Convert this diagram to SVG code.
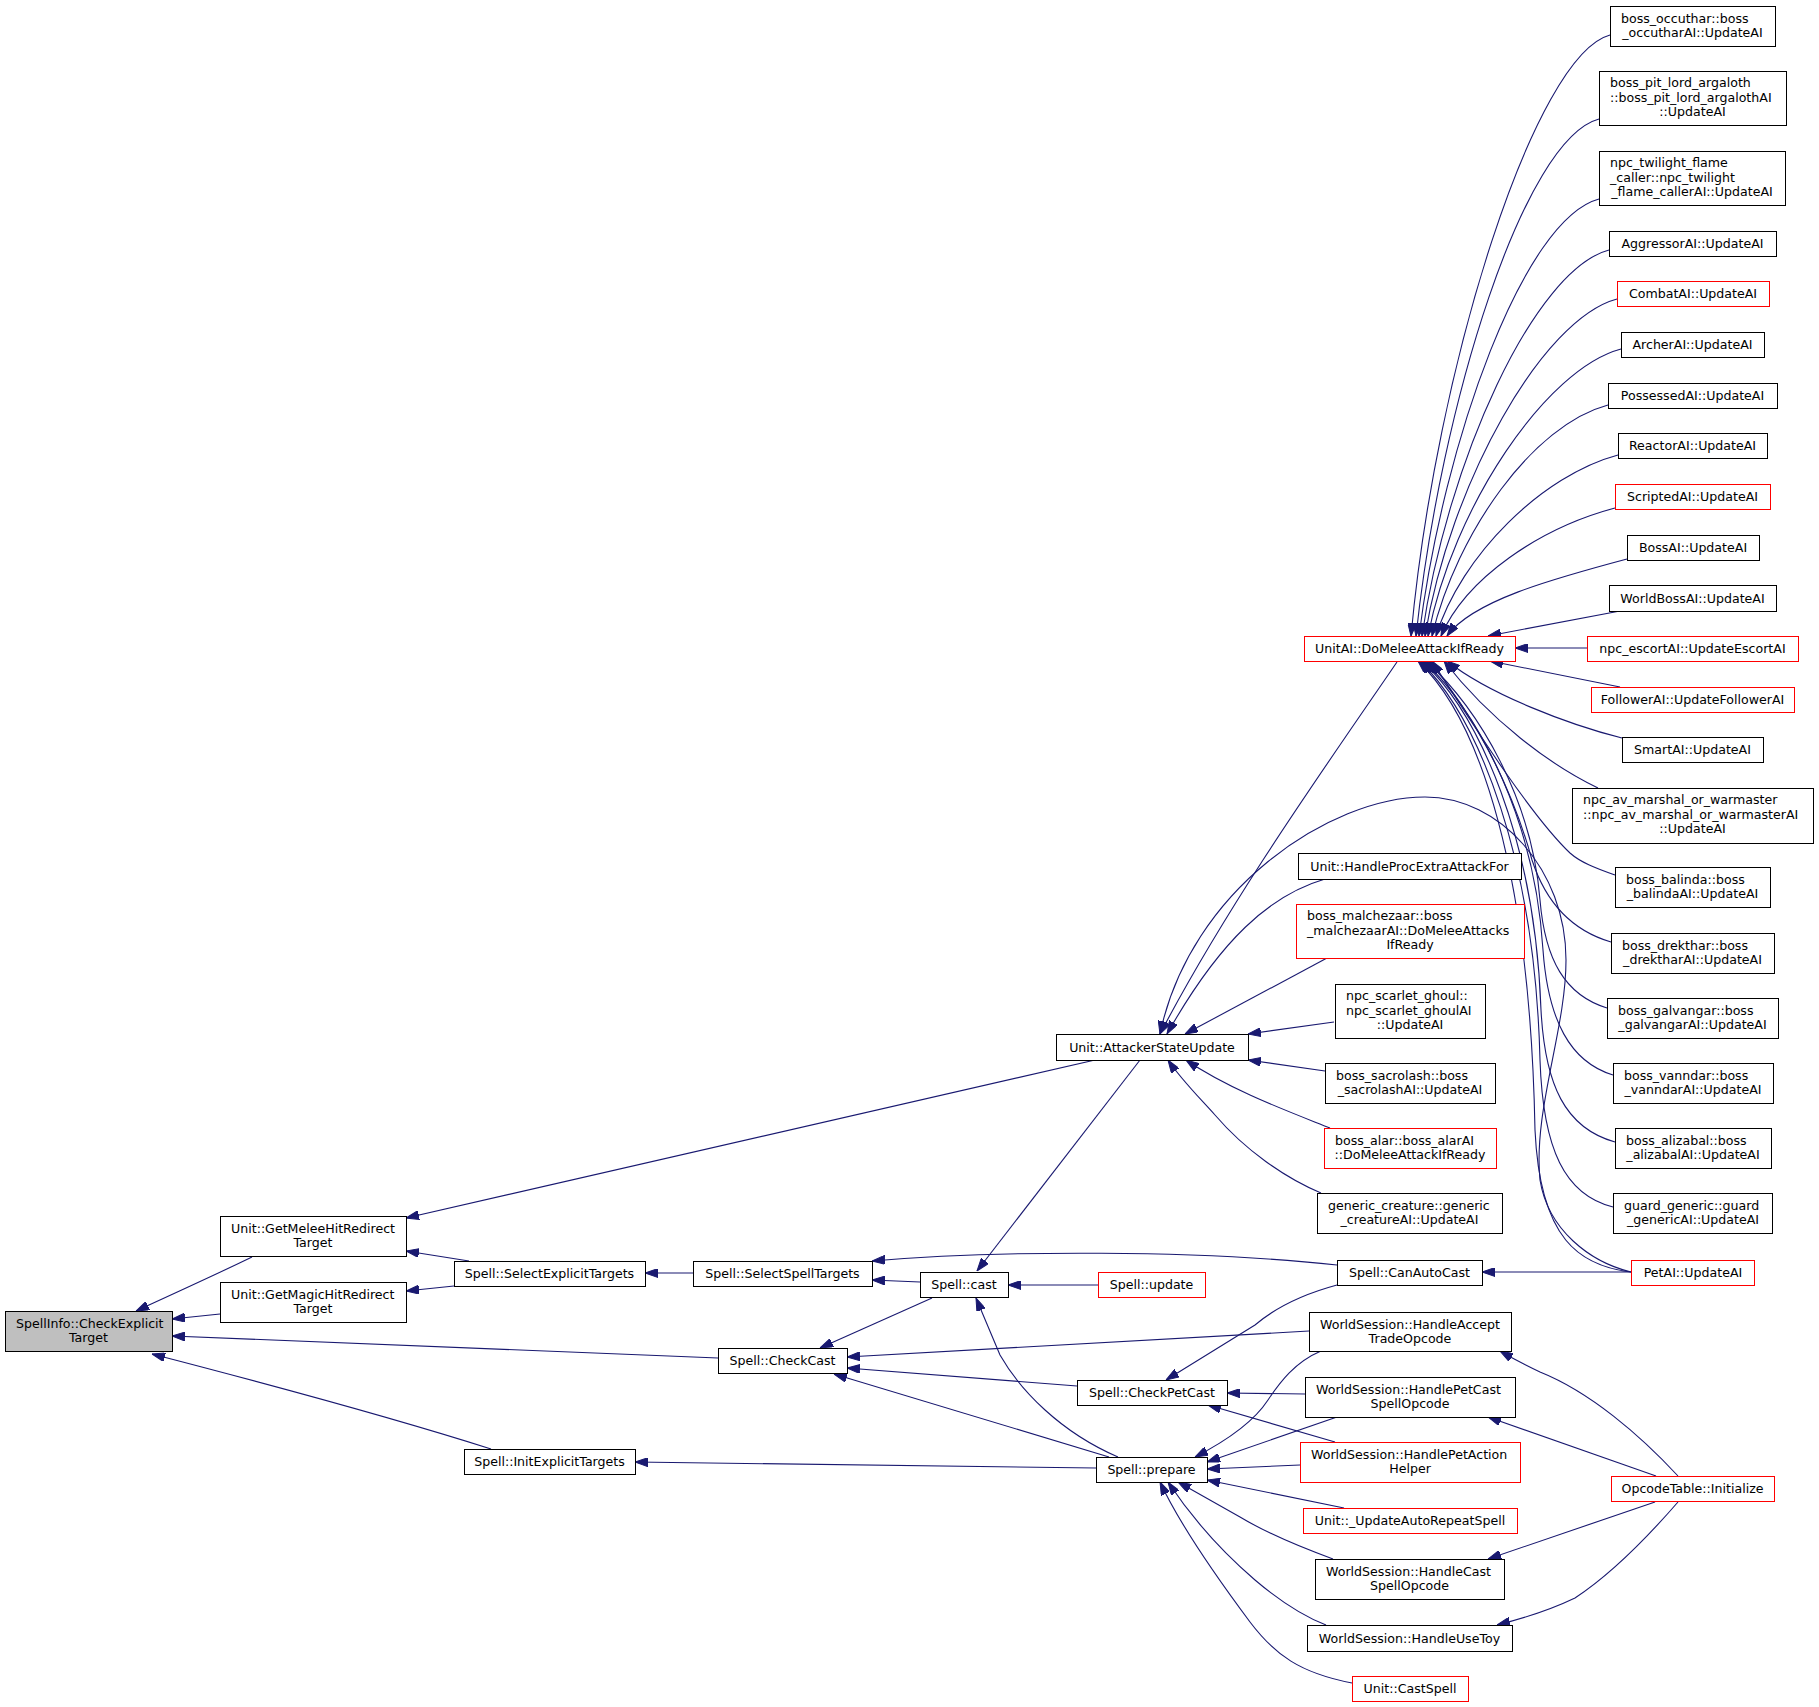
<svg xmlns="http://www.w3.org/2000/svg" width="1819" height="1707" viewBox="0 0 1819 1707">
<style>
rect{fill:#fff;stroke:#000;stroke-width:1}
.r rect{stroke:#f00}
.g rect{fill:#bfbfbf}
text{font-family:"DejaVu Sans","Liberation Sans",sans-serif;font-size:12.6px;fill:#000}
.c{text-anchor:middle}
#edges path{fill:none;stroke:#191970;stroke-width:1.1;marker-end:url(#ah)}
</style>
<defs>
<marker id="ah" markerUnits="userSpaceOnUse" markerWidth="13" markerHeight="9" refX="13" refY="4.5" orient="auto" viewBox="0 0 13 9">
<path d="M0,0 L13,4.5 L0,9 z" fill="#191970" stroke="#191970" stroke-width="1"/>
</marker>
</defs>
<rect x="0" y="0" width="1819" height="1707" style="fill:#fff;stroke:none"/>
<g id="edges">
<path d="M252,1257 C215,1275 175,1293 136,1311"/>
<path d="M220,1314 L172,1319"/>
<path d="M718,1358 L172,1336"/>
<path d="M491,1449 C400,1420 260,1382 152,1354"/>
<path d="M469,1261 L406,1251"/>
<path d="M454,1286 L406,1291"/>
<path d="M1095,1060 L406,1218"/>
<path d="M693,1273 L645,1273"/>
<path d="M920,1282 L872,1280"/>
<path d="M1337,1265 C1200,1250 1000,1250 872,1261"/>
<path d="M1098,1285 L1008,1285"/>
<path d="M1140,1060 L977,1271"/>
<path d="M1118,1457 C1060,1432 1020,1390 1000,1355 L976,1298"/>
<path d="M932,1298 L820,1348"/>
<path d="M1309,1331 L847,1357"/>
<path d="M1077,1386 L847,1368"/>
<path d="M1109,1457 L834,1374"/>
<path d="M1096,1468 L635,1462"/>
<path d="M1337,1285 C1300,1295 1275,1308 1255,1325 L1166,1380"/>
<path d="M1305,1394 L1227,1393"/>
<path d="M1335,1442 L1208,1405"/>
<path d="M1321,1351 C1295,1362 1280,1382 1268,1400 C1255,1420 1228,1440 1195,1457"/>
<path d="M1337,1417 L1207,1462"/>
<path d="M1300,1465 L1207,1469"/>
<path d="M1344,1508 L1207,1480"/>
<path d="M1333,1559 C1300,1547 1265,1532 1240,1517 L1178,1482"/>
<path d="M1326,1625 C1300,1615 1275,1597 1255,1580 C1220,1550 1190,1515 1168,1482"/>
<path d="M1352,1683 C1300,1673 1275,1655 1250,1622 C1215,1575 1180,1525 1160,1482"/>
<path d="M1678,1476 C1640,1435 1590,1392 1540,1372 C1525,1365 1512,1358 1500,1351"/>
<path d="M1656,1476 L1488,1417"/>
<path d="M1655,1502 L1488,1559"/>
<path d="M1678,1502 C1645,1540 1610,1575 1575,1598 C1550,1610 1525,1618 1497,1625"/>
<path d="M1631,1272 L1482,1272"/>
<path d="M1587,648 L1515,648"/>
<path d="M1620,611 L1488,636"/>
<path d="M1620,687 L1490,661"/>
<path d="M1610,35 C1535,55 1436,365 1411,636"/>
<path d="M1599,119 C1524,139 1441,403 1416,636"/>
<path d="M1599,199 C1524,219 1444,439 1419,636"/>
<path d="M1609,250 C1534,270 1447,462 1422,636"/>
<path d="M1617,299 C1542,319 1450,484 1425,636"/>
<path d="M1621,349 C1546,369 1453,507 1428,636"/>
<path d="M1608,405 C1533,425 1457,532 1432,636"/>
<path d="M1618,455 C1543,475 1461,555 1436,636"/>
<path d="M1615,508 C1540,528 1466,578 1441,636"/>
<path d="M1627,559 C1552,579 1472,601 1447,636"/>
<path d="M1622,738 C1570,725 1490,695 1447,661"/>
<path d="M1598,788 C1550,765 1490,720 1444,661"/>
<path d="M1615,875 C1595,868 1580,862 1570,853 C1530,815 1470,720 1432,661"/>
<path d="M1611,942 C1570,930 1545,900 1532,860 C1510,780 1470,710 1429,661"/>
<path d="M1607,1008 C1565,995 1545,960 1540,900 C1532,800 1480,710 1426,661"/>
<path d="M1613,1075 C1570,1062 1548,1020 1543,950 C1535,820 1480,715 1424,661"/>
<path d="M1615,1142 C1565,1128 1545,1085 1541,1010 C1535,840 1480,715 1422,661"/>
<path d="M1613,1207 C1565,1195 1543,1150 1540,1060 C1535,860 1480,720 1420,661"/>
<path d="M1631,1272 C1580,1266 1540,1240 1535,1130 C1530,870 1480,720 1418,661"/>
<path d="M1631,1272 C1590,1262 1548,1230 1540,1180 C1533,1110 1566,1030 1566,960 C1566,870 1500,797 1425,797 C1330,797 1190,890 1160,1034"/>
<path d="M1397,662 C1330,760 1230,900 1160,1034"/>
<path d="M1325,879 C1270,895 1220,940 1167,1034"/>
<path d="M1327,958 L1185,1034"/>
<path d="M1334,1022 L1248,1034"/>
<path d="M1325,1071 L1248,1060"/>
<path d="M1330,1128 C1290,1112 1230,1090 1186,1060"/>
<path d="M1321,1193 C1285,1178 1245,1150 1215,1115 C1195,1093 1180,1078 1168,1060"/>
</g>
<g id="n0" class="g"><rect x="5.5" y="1311.5" width="167" height="40"/><text x="16" y="1327.5">SpellInfo::CheckExplicit</text><text class="c" x="88.5" y="1342">Target</text></g>
<g id="n1"><rect x="220.5" y="1216.5" width="186" height="40"/><text x="231" y="1232.5">Unit::GetMeleeHitRedirect</text><text class="c" x="313" y="1247">Target</text></g>
<g id="n2"><rect x="220.5" y="1282.5" width="186" height="40"/><text x="231" y="1298.5">Unit::GetMagicHitRedirect</text><text class="c" x="313" y="1313">Target</text></g>
<g id="n3"><rect x="454.5" y="1261.5" width="191" height="25"/><text class="c" x="549.5" y="1278">Spell::SelectExplicitTargets</text></g>
<g id="n4"><rect x="464.5" y="1449.5" width="171" height="25"/><text class="c" x="549.5" y="1466">Spell::InitExplicitTargets</text></g>
<g id="n5"><rect x="693.5" y="1261.5" width="179" height="25"/><text class="c" x="782.5" y="1278">Spell::SelectSpellTargets</text></g>
<g id="n6"><rect x="718.5" y="1348.5" width="129" height="25"/><text class="c" x="782.5" y="1365">Spell::CheckCast</text></g>
<g id="n7"><rect x="920.5" y="1272.5" width="88" height="25"/><text class="c" x="964" y="1289">Spell::cast</text></g>
<g id="n8"><rect x="1056.5" y="1034.5" width="192" height="26"/><text class="c" x="1152" y="1051.5">Unit::AttackerStateUpdate</text></g>
<g id="n9" class="r"><rect x="1098.5" y="1272.5" width="107" height="25"/><text class="c" x="1151.5" y="1289">Spell::update</text></g>
<g id="n10"><rect x="1077.5" y="1380.5" width="150" height="25"/><text class="c" x="1152" y="1397">Spell::CheckPetCast</text></g>
<g id="n11"><rect x="1096.5" y="1457.5" width="111" height="25"/><text class="c" x="1151.5" y="1474">Spell::prepare</text></g>
<g id="n12" class="r"><rect x="1304.5" y="636.5" width="211" height="25"/><text class="c" x="1409.5" y="653">UnitAI::DoMeleeAttackIfReady</text></g>
<g id="n13"><rect x="1298.5" y="853.5" width="223" height="26"/><text class="c" x="1409.5" y="870.5">Unit::HandleProcExtraAttackFor</text></g>
<g id="n14" class="r"><rect x="1296.5" y="904.5" width="228" height="54"/><text x="1307" y="920">boss_malchezaar::boss</text><text x="1307" y="934.5">_malchezaarAI::DoMeleeAttacks</text><text class="c" x="1410" y="949">IfReady</text></g>
<g id="n15"><rect x="1335.5" y="984.5" width="150" height="54"/><text x="1346" y="1000">npc_scarlet_ghoul::</text><text x="1346" y="1014.5">npc_scarlet_ghoulAI</text><text class="c" x="1410" y="1029">::UpdateAI</text></g>
<g id="n16"><rect x="1325.5" y="1063.5" width="170" height="40"/><text x="1336" y="1079.5">boss_sacrolash::boss</text><text class="c" x="1410" y="1094">_sacrolashAI::UpdateAI</text></g>
<g id="n17" class="r"><rect x="1324.5" y="1128.5" width="172" height="40"/><text x="1335" y="1144.5">boss_alar::boss_alarAI</text><text class="c" x="1410" y="1159">::DoMeleeAttackIfReady</text></g>
<g id="n18"><rect x="1317.5" y="1193.5" width="185" height="40"/><text x="1328" y="1209.5">generic_creature::generic</text><text class="c" x="1409.5" y="1224">_creatureAI::UpdateAI</text></g>
<g id="n19"><rect x="1337.5" y="1260.5" width="145" height="25"/><text class="c" x="1409.5" y="1277">Spell::CanAutoCast</text></g>
<g id="n20"><rect x="1309.5" y="1312.5" width="202" height="39"/><text x="1320" y="1328.5">WorldSession::HandleAccept</text><text class="c" x="1410" y="1343">TradeOpcode</text></g>
<g id="n21"><rect x="1305.5" y="1377.5" width="210" height="40"/><text x="1316" y="1393.5">WorldSession::HandlePetCast</text><text class="c" x="1410" y="1408">SpellOpcode</text></g>
<g id="n22" class="r"><rect x="1300.5" y="1442.5" width="220" height="40"/><text x="1311" y="1458.5">WorldSession::HandlePetAction</text><text class="c" x="1410" y="1473">Helper</text></g>
<g id="n23" class="r"><rect x="1303.5" y="1508.5" width="214" height="25"/><text class="c" x="1410" y="1525">Unit::_UpdateAutoRepeatSpell</text></g>
<g id="n24"><rect x="1315.5" y="1559.5" width="189" height="40"/><text x="1326" y="1575.5">WorldSession::HandleCast</text><text class="c" x="1409.5" y="1590">SpellOpcode</text></g>
<g id="n25"><rect x="1307.5" y="1625.5" width="205" height="26"/><text class="c" x="1409.5" y="1642.5">WorldSession::HandleUseToy</text></g>
<g id="n26" class="r"><rect x="1352.5" y="1676.5" width="116" height="25"/><text class="c" x="1410" y="1693">Unit::CastSpell</text></g>
<g id="n27"><rect x="1610.5" y="6.5" width="165" height="40"/><text x="1621" y="22.5">boss_occuthar::boss</text><text class="c" x="1692.5" y="37">_occutharAI::UpdateAI</text></g>
<g id="n28"><rect x="1599.5" y="71.5" width="187" height="54"/><text x="1610" y="87">boss_pit_lord_argaloth</text><text x="1610" y="101.5">::boss_pit_lord_argalothAI</text><text class="c" x="1692.5" y="116">::UpdateAI</text></g>
<g id="n29"><rect x="1599.5" y="151.5" width="186" height="54"/><text x="1610" y="167">npc_twilight_flame</text><text x="1610" y="181.5">_caller::npc_twilight</text><text class="c" x="1692" y="196">_flame_callerAI::UpdateAI</text></g>
<g id="n30"><rect x="1609.5" y="231.5" width="167" height="25"/><text class="c" x="1692.5" y="248">AggressorAI::UpdateAI</text></g>
<g id="n31" class="r"><rect x="1617.5" y="281.5" width="152" height="25"/><text class="c" x="1693" y="298">CombatAI::UpdateAI</text></g>
<g id="n32"><rect x="1621.5" y="332.5" width="143" height="25"/><text class="c" x="1692.5" y="349">ArcherAI::UpdateAI</text></g>
<g id="n33"><rect x="1608.5" y="383.5" width="169" height="25"/><text class="c" x="1692.5" y="400">PossessedAI::UpdateAI</text></g>
<g id="n34"><rect x="1618.5" y="433.5" width="149" height="25"/><text class="c" x="1692.5" y="450">ReactorAI::UpdateAI</text></g>
<g id="n35" class="r"><rect x="1615.5" y="484.5" width="155" height="25"/><text class="c" x="1692.5" y="501">ScriptedAI::UpdateAI</text></g>
<g id="n36"><rect x="1627.5" y="535.5" width="132" height="25"/><text class="c" x="1693" y="552">BossAI::UpdateAI</text></g>
<g id="n37"><rect x="1609.5" y="585.5" width="167" height="26"/><text class="c" x="1692.5" y="602.5">WorldBossAI::UpdateAI</text></g>
<g id="n38" class="r"><rect x="1587.5" y="636.5" width="211" height="25"/><text class="c" x="1692.5" y="653">npc_escortAI::UpdateEscortAI</text></g>
<g id="n39" class="r"><rect x="1591.5" y="687.5" width="203" height="25"/><text class="c" x="1692.5" y="704">FollowerAI::UpdateFollowerAI</text></g>
<g id="n40"><rect x="1622.5" y="737.5" width="141" height="25"/><text class="c" x="1692.5" y="754">SmartAI::UpdateAI</text></g>
<g id="n41"><rect x="1572.5" y="788.5" width="241" height="55"/><text x="1583" y="804">npc_av_marshal_or_warmaster</text><text x="1583" y="818.5">::npc_av_marshal_or_warmasterAI</text><text class="c" x="1692.5" y="833">::UpdateAI</text></g>
<g id="n42"><rect x="1615.5" y="867.5" width="155" height="40"/><text x="1626" y="883.5">boss_balinda::boss</text><text class="c" x="1692.5" y="898">_balindaAI::UpdateAI</text></g>
<g id="n43"><rect x="1611.5" y="933.5" width="163" height="40"/><text x="1622" y="949.5">boss_drekthar::boss</text><text class="c" x="1692.5" y="964">_drektharAI::UpdateAI</text></g>
<g id="n44"><rect x="1607.5" y="998.5" width="171" height="40"/><text x="1618" y="1014.5">boss_galvangar::boss</text><text class="c" x="1692.5" y="1029">_galvangarAI::UpdateAI</text></g>
<g id="n45"><rect x="1613.5" y="1063.5" width="160" height="40"/><text x="1624" y="1079.5">boss_vanndar::boss</text><text class="c" x="1693" y="1094">_vanndarAI::UpdateAI</text></g>
<g id="n46"><rect x="1615.5" y="1128.5" width="156" height="40"/><text x="1626" y="1144.5">boss_alizabal::boss</text><text class="c" x="1693" y="1159">_alizabalAI::UpdateAI</text></g>
<g id="n47"><rect x="1613.5" y="1193.5" width="159" height="40"/><text x="1624" y="1209.5">guard_generic::guard</text><text class="c" x="1693" y="1224">_genericAI::UpdateAI</text></g>
<g id="n48" class="r"><rect x="1631.5" y="1260.5" width="123" height="25"/><text class="c" x="1693" y="1277">PetAI::UpdateAI</text></g>
<g id="n49" class="r"><rect x="1611.5" y="1476.5" width="163" height="25"/><text class="c" x="1692.5" y="1493">OpcodeTable::Initialize</text></g>
</svg>
